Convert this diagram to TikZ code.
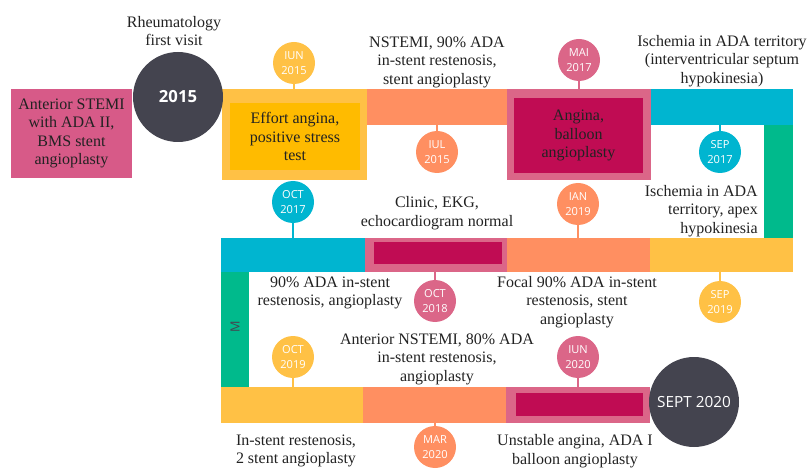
\documentclass[tikz,border=0pt]{standalone}
\usepackage{fontspec}
\setmainfont{Liberation Serif}
\newfontfamily\opensans{Open Sans}

\definecolor{textc}{HTML}{222222}
\definecolor{darkc}{HTML}{44444F}
\definecolor{pinkA}{HTML}{D75A88}
\definecolor{pinkB}{HTML}{DB6688}
\definecolor{magc}{HTML}{C00C53}
\definecolor{yelA}{HTML}{FFC145}
\definecolor{yelB}{HTML}{FFBB00}
\definecolor{oranc}{HTML}{FF8F61}
\definecolor{cyanc}{HTML}{00B5D0}
\definecolor{greenc}{HTML}{00BA8C}

\newcommand\lblfont{\fontsize{12}{13.9}\selectfont}
\newcommand\datefont{\opensans\fontsize{8.3}{11.3}\selectfont}

\tikzset{
  bar/.style={fill=#1, inner sep=0pt, outer sep=0pt, anchor=north west},
  datec/.style={circle, fill=#1, minimum size=31.5pt, inner sep=0pt,
                text=white, font=\datefont, align=center},
  stem/.style={draw=#1, line width=1.5pt},
  lbl/.style={font=\lblfont, text=textc, align=center, inner sep=0pt},
  bigc/.style={circle, fill=darkc, minimum size=67.5pt, inner sep=0pt,
               text=white, font=\opensans\fontsize{11.5}{14}\selectfont},
}
% \mybar{name}{x1}{y1}{x2}{y2}{colour}, corners in pixel units
\newcommand\mybar[6]{\node[bar=#6, minimum width={(#4-#2)*0.75pt},
  minimum height={(#5-#3)*0.75pt}] (#1) at (#2,#3) {};}

\begin{document}
\begin{tikzpicture}[x=0.75pt,y=-0.75pt]
\useasboundingbox (0,0) rectangle (810,470);

% ---- first row ----
\mybar{stemi}{11}{89}{132}{178}{pinkA}
\mybar{effortout}{222}{89}{367}{180}{yelA}
\mybar{effortin}{230}{103}{360}{170}{yelB}
\mybar{nstemibar}{367}{89}{508}{125}{oranc}
\mybar{anginaout}{507}{89}{651}{180}{pinkB}
\mybar{anginain}{514}{98}{643}{173}{magc}
\mybar{cyanA}{651}{89}{793}{125}{cyanc}
\mybar{greenR}{764}{125}{793}{238}{greenc}

% ---- second row ----
\mybar{cyanB}{221}{238}{365}{272}{cyanc}
\mybar{pinkrow2}{365}{238}{507}{272}{pinkB}
\mybar{magrow2}{374}{242}{502}{264}{magc}
\mybar{oranrow2}{507}{238}{650}{272}{oranc}
\mybar{yelrow2}{650}{238}{793}{272}{yelA}
\mybar{greenL}{221}{272}{249}{387}{greenc}

% ---- third row ----
\mybar{yelrow3}{221}{387}{363}{423}{yelA}
\mybar{oranrow3}{363}{387}{506}{423}{oranc}
\mybar{pinkrow3}{506}{387}{650}{423}{pinkB}
\mybar{magrow3}{516}{393}{643}{416}{magc}

% ---- year circles ----
\node[bigc, font=\opensans\fontsize{12.5}{14}\selectfont] (y2015) at (178,97) {\bfseries 2015};
\node[bigc] (y2020) at (694,402) {SEPT 2020};

% ---- date circles ----
\node[datec=yelA]  (d1)  at (294,63)  {IUN\\2015};
\node[datec=oranc] (d2)  at (437,152) {IUL\\2015};
\node[datec=pinkB] (d3)  at (579,60)  {MAI\\2017};
\node[datec=cyanc] (d4)  at (720,152) {SEP\\2017};
\node[datec=cyanc] (d5)  at (293,202) {OCT\\2017};
\node[datec=oranc] (d6)  at (578,204) {IAN\\2019};
\node[datec=pinkB] (d7)  at (435,301) {OCT\\2018};
\node[datec=yelA]  (d8)  at (720,302) {SEP\\2019};
\node[datec=yelA]  (d9)  at (293,357) {OCT\\2019};
\node[datec=pinkB] (d10) at (578,357) {IUN\\2020};
\node[datec=oranc] (d11) at (435,447) {MAR\\2020};

% ---- stems ----
\draw[stem=yelA]  (d1)  -- (d1 |- effortout.north);
\draw[stem=oranc] (d2)  -- (d2 |- nstemibar.south);
\draw[stem=pinkB] (d3)  -- (d3 |- anginaout.north);
\draw[stem=cyanc] (d4)  -- (d4 |- cyanA.south);
\draw[stem=cyanc] (d5)  -- (d5 |- cyanB.north);
\draw[stem=oranc] (d6)  -- (d6 |- oranrow2.north);
\draw[stem=pinkB] (d7)  -- (d7 |- pinkrow2.south);
\draw[stem=yelA]  (d8)  -- (d8 |- yelrow2.south);
\draw[stem=yelA]  (d9)  -- (d9 |- yelrow3.north);
\draw[stem=pinkB] (d10) -- (d10 |- pinkrow3.north);
\draw[stem=oranc] (d11) -- (d11 |- oranrow3.south);

% ---- labels ----
\node[lbl] (t1) at (174,31) {Rheumatology\\first visit};
\node[lbl] (t2) at (stemi.center) {Anterior STEMI\\with ADA II,\\BMS stent\\angioplasty};
\node[lbl] (t3) at (effortin.center) {Effort angina,\\positive stress\\test};
\node[lbl] (t4) at (437,62) {NSTEMI, 90\% ADA\\in-stent restenosis,\\stent angioplasty};
\node[lbl] (t5) at (anginain.center) {Angina,\\balloon\\angioplasty};
\node[lbl] (t6) at (722,61) {Ischemia in ADA territory\\(interventricular septum\\hypokinesia)};
\node[lbl, align=right, anchor=east] (t7) at (758,211) {Ischemia in ADA\\territory, apex\\hypokinesia};
\node[lbl] (t8) at (437,213) {Clinic, EKG,\\echocardiogram normal};
\node[lbl] (t9) at (330,293) {90\% ADA in-stent\\restenosis, angioplasty};
\node[lbl] (t10) at (577,302) {Focal 90\% ADA in-stent\\restenosis, stent\\angioplasty};
\node[lbl] (t11) at (437,359) {Anterior NSTEMI, 80\% ADA\\in-stent restenosis,\\angioplasty};
\node[lbl] (t12) at (296,451) {In-stent restenosis,\\2 stent angioplasty};
\node[lbl] (t13) at (575,451) {Unstable angina, ADA I\\balloon angioplasty};
\node[font=\opensans\fontsize{9.5}{11}\selectfont, text=darkc, rotate=90, inner sep=0pt] (tm) at (235,327) {M};
\end{tikzpicture}
\end{document}
